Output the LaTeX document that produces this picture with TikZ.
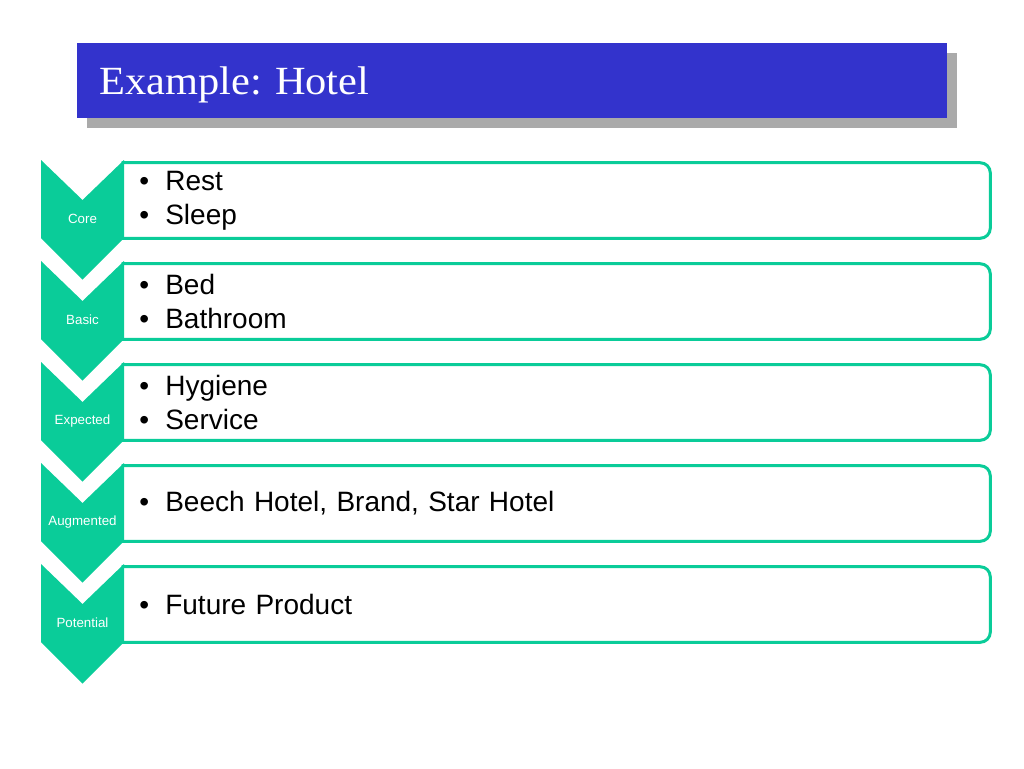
\documentclass[tikz,border=0pt]{standalone}
\usepackage{fontspec}
\setmainfont{Liberation Sans}
\newfontfamily\titlefont[FakeStretch=1.06]{Liberation Serif}
\usetikzlibrary{shadows}
\definecolor{titleblue}{RGB}{51,51,204}
\definecolor{titleshadow}{RGB}{170,170,170}
\definecolor{level}{RGB}{10,204,153}
\newcommand{\bulletitem}[1]{\makebox[19.5pt][l]{\textbullet}#1}

\begin{document}
\frenchspacing
\begin{tikzpicture}[
    x=0.75pt, y=-0.75pt,
    titlebox/.style={rectangle, fill=titleblue, text=white, minimum width=652.5pt, minimum height=56.25pt, text width=619pt, inner xsep=16.5pt, text depth=0pt, align=left, font=\titlefont\fontsize{30}{36}\selectfont, drop shadow={shadow xshift=7.5pt, shadow yshift=-7.5pt, fill=titleshadow, opacity=1}},
    itembox/.style={rectangle, minimum width=651pt, minimum height=56.25pt, text width=625pt, inner xsep=12.75pt, align=left, font=\fontsize{21}{25.5}\selectfont},
    itemframe/.style={draw=level, line width=2.25pt, rounded corners=7.5pt},
    levelarrow/.style={fill=level},
    levellabel/.style={text=white, font=\fontsize{10}{12}\selectfont}
]
\useasboundingbox (0,0) rectangle (1024,768);

% Title bar
\node[titlebox] (title) at (512,80.5) {Example: Hotel};

% Item boxes
\node[itembox] (coreitems) at (556,200.5) {\bulletitem{Rest}\\\bulletitem{Sleep}};
\node[itembox] (basicitems) at (556,301.5) {\bulletitem{Bed}\\\bulletitem{Bathroom}};
\node[itembox] (expecteditems) at (556,402.5) {\bulletitem{Hygiene}\\\bulletitem{Service}};
\node[itembox] (augmenteditems) at (556,503.5) {\bulletitem{Beech Hotel, Brand, Star Hotel}};
\node[itembox] (potentialitems) at (556,604.5) {\bulletitem{Future Product}};

% Box frames (left side sits under the chevrons)
\draw[itemframe] (coreitems.north west) -- (coreitems.north east) -- (coreitems.south east) -- (coreitems.south west);
\draw[itemframe] (basicitems.north west) -- (basicitems.north east) -- (basicitems.south east) -- (basicitems.south west);
\draw[itemframe] (expecteditems.north west) -- (expecteditems.north east) -- (expecteditems.south east) -- (expecteditems.south west);
\draw[itemframe] (augmenteditems.north west) -- (augmenteditems.north east) -- (augmenteditems.south east) -- (augmenteditems.south west);
\draw[itemframe] (potentialitems.north west) -- (potentialitems.north east) -- (potentialitems.south east) -- (potentialitems.south west);

% Level chevrons
\fill[levelarrow] (41,160) -- ++(41.5,40) -- ++(41.5,-40) -- ++(0,78) -- ++(-41.5,41.5) -- ++(-41.5,-41.5) -- cycle;
\fill[levelarrow] (41,261) -- ++(41.5,40) -- ++(41.5,-40) -- ++(0,78) -- ++(-41.5,41.5) -- ++(-41.5,-41.5) -- cycle;
\fill[levelarrow] (41,362) -- ++(41.5,40) -- ++(41.5,-40) -- ++(0,78) -- ++(-41.5,41.5) -- ++(-41.5,-41.5) -- cycle;
\fill[levelarrow] (41,463) -- ++(41.5,40) -- ++(41.5,-40) -- ++(0,78) -- ++(-41.5,41.5) -- ++(-41.5,-41.5) -- cycle;
\fill[levelarrow] (41,564) -- ++(41.5,40) -- ++(41.5,-40) -- ++(0,78) -- ++(-41.5,41.5) -- ++(-41.5,-41.5) -- cycle;

% Level labels
\node[levellabel] (core) at (82.5,219) {Core};
\node[levellabel] (basic) at (82.5,320) {Basic};
\node[levellabel] (expected) at (82.5,421) {Expected};
\node[levellabel] (augmented) at (82.5,522) {Augmented};
\node[levellabel] (potential) at (82.5,623) {Potential};

\end{tikzpicture}
\end{document}
